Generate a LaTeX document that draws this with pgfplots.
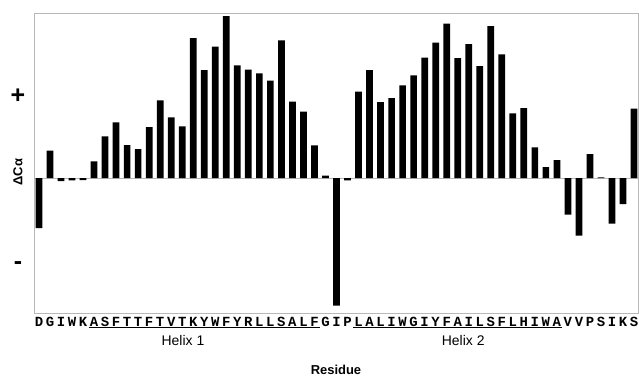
\documentclass[border=0pt]{standalone}
\usepackage{fontspec}
\setmainfont{Liberation Sans}
\newfontfamily\resfont{Liberation Mono}
\usepackage{pgfplots}
\pgfplotsset{compat=1.18}
\pgfplotstableread{
i v
1 -150
2 82
3 -9
4 -7
5 -6
6 50
7 125
8 167
9 99
10 87
11 153
12 233
13 182
14 155
15 420
16 324
17 394
18 486
19 338
20 325
21 314
22 292
23 413
24 229
25 199
26 98
27 7
28 -383
29 -7
30 259
31 324
32 228
33 240
34 278
35 308
36 361
37 406
38 463
39 360
40 402
41 336
42 456
43 371
44 194
45 210
46 92
47 33
48 54
49 -110
50 -173
51 72
52 2
53 -137
54 -78
55 208
}\dca
\begin{document}
\begin{tikzpicture}
\useasboundingbox (-34bp,-64bp) rectangle (605bp,313bp);
\begin{axis}[
  at={(0,0)}, anchor=south west,
  scale only axis, width=604bp, height=300bp,
  xmin=0.55, xmax=55.36, ymin=-405, ymax=495,
  clip=false,
  axis line style={draw=black!28, line width=0.9bp},
  ybar, bar width=6.7bp,
  major tick length=0pt,
  xtick={1,...,55},
  xticklabels={D,G,I,W,K,A,S,F,T,T,F,T,V,T,K,Y,W,F,Y,R,L,L,S,A,L,F,G,I,P,L,A,L,I,W,G,I,Y,F,A,I,L,S,F,L,H,I,W,A,V,V,P,S,I,K,S},
  xticklabel style={anchor=base, yshift=-13bp, font=\resfont\bfseries\fontsize{14}{14}\selectfont},
  ytick={244,-262},
  yticklabels={+,-},
  yticklabel style={anchor=center, xshift=-16bp, font=\bfseries\fontsize{25}{25}\selectfont},
  ylabel={ΔCα},
  ylabel style={at={(axis description cs:0,0.47)}, anchor=center, yshift=16bp, font=\bfseries\fontsize{13}{13}\selectfont},
  xlabel={Residue},
  xlabel style={at={(axis description cs:0.5,0)}, anchor=base, yshift=-61bp, font=\bfseries\fontsize{13}{13}\selectfont},
]
\draw[black!28, line width=0.9bp] (axis cs:0.55,0) -- (axis cs:55.36,0);
\addplot[fill=black, draw=none] table[x=i, y=v] {\dca};
\draw[line width=1.8bp] ([yshift=-14.5bp]axis cs:5.5,-405) -- ([yshift=-14.5bp]axis cs:26.5,-405);
\draw[line width=1.8bp] ([yshift=-14.5bp]axis cs:29.5,-405) -- ([yshift=-14.5bp]axis cs:48.5,-405);
\node[anchor=base, font=\fontsize{14}{14}\selectfont] at ([yshift=-32bp]axis cs:14.07,-405) {Helix 1};
\node[anchor=base, font=\fontsize{14}{14}\selectfont] at ([yshift=-32bp]axis cs:39.5,-405) {Helix 2};
\end{axis}
\end{tikzpicture}
\end{document}
